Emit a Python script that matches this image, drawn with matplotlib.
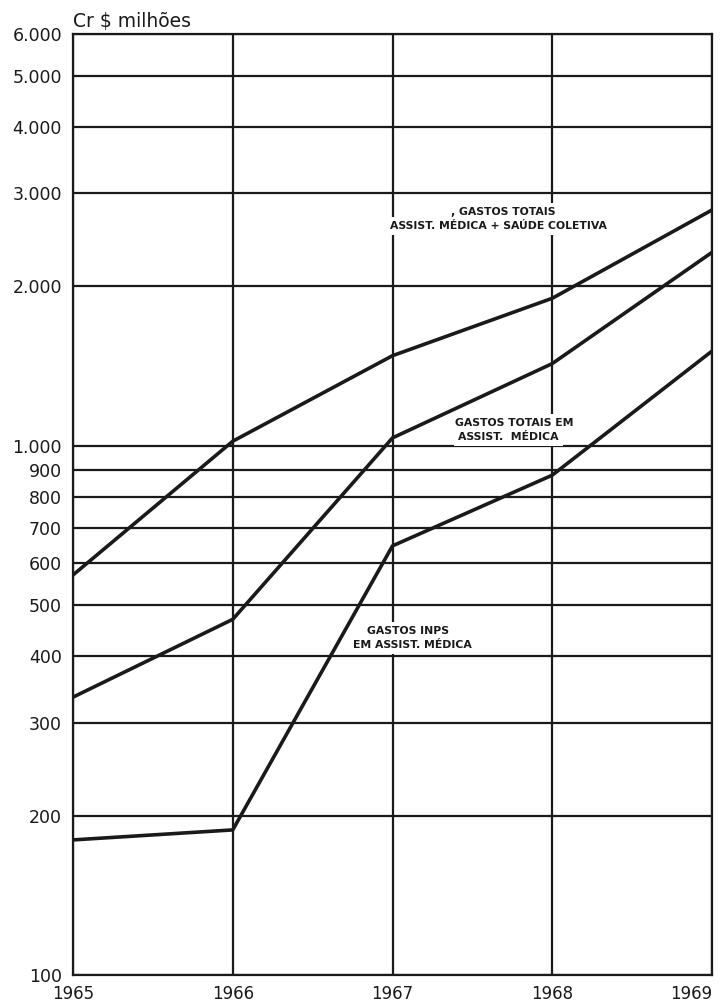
import matplotlib.pyplot as plt
from matplotlib.ticker import FixedLocator, NullLocator

anos = [1965, 1966, 1967, 1968, 1969]
# Cr$ milhões
gastos_totais = [570, 1020, 1480, 1900, 2790]          # assist. médica + saúde coletiva
gastos_assist = [335, 470, 1035, 1430, 2320]           # gastos totais em assist. médica
gastos_inps = [180, 188, 647, 880, 1510]               # gastos INPS em assist. médica

y_ticks = [100, 200, 300, 400, 500, 600, 700, 800, 900, 1000,
           2000, 3000, 4000, 5000, 6000]
y_labels = ['100', '200', '300', '400', '500', '600', '700', '800', '900',
            '1.000', '2.000', '3.000', '4.000', '5.000', '6.000']

ink = '#1a1a1a'
plt.rcParams['font.family'] = ['DejaVu Sans']

W, H = 726, 1001
fig = plt.figure(figsize=(W / 100, H / 100), dpi=100)
ax = fig.add_axes([73 / W, 1 - 975 / H, (712 - 73) / W, (975 - 34) / H])

ax.set_yscale('log')
ax.set_ylim(100, 6000)
ax.set_xlim(1965, 1969)

ax.yaxis.set_major_locator(FixedLocator(y_ticks))
ax.yaxis.set_minor_locator(NullLocator())
ax.set_yticklabels(y_labels)
ax.set_xticks(anos)
ax.set_xticklabels([str(a) for a in anos])

ax.grid(True, color=ink, linewidth=1.6)
ax.tick_params(axis='y', length=0, pad=8, labelsize=12.5, colors=ink)
ax.tick_params(axis='x', length=0, pad=7, labelsize=12, colors=ink)
ax.get_xticklabels()[-1].set_horizontalalignment('right')
ax.get_xticklabels()[-1].set_x(1969.05)
for s in ax.spines.values():
    s.set_color(ink)
    s.set_linewidth(1.6)

for serie in (gastos_totais, gastos_assist, gastos_inps):
    ax.plot(anos, serie, color=ink, linewidth=2.6, solid_capstyle='round', zorder=3)

# fundo branco que interrompe a grade atrás dos rótulos
fundo = dict(facecolor='white', edgecolor='none', pad=3)


def rotulo(x, y, s, ha='center'):
    fig.text(x / W, 1 - y / H, s, ha=ha, va='center', fontsize=7.8,
             fontweight='bold', color=ink, bbox=fundo)


rotulo(503, 212, ', GASTOS TOTAIS')
rotulo(498, 226, 'ASSIST. MÉDICA + SAÚDE COLETIVA')
rotulo(455, 423, 'GASTOS TOTAIS EM', ha='left')
rotulo(458, 437, 'ASSIST.  MÉDICA', ha='left')
rotulo(408, 631, 'GASTOS INPS')
rotulo(412, 645, 'EM ASSIST. MÉDICA')

fig.text(73 / W, 1 - 31 / H, 'Cr $ milhões', fontsize=13.5, color=ink,
         ha='left', va='bottom')

plt.savefig('out.png', dpi=100)
